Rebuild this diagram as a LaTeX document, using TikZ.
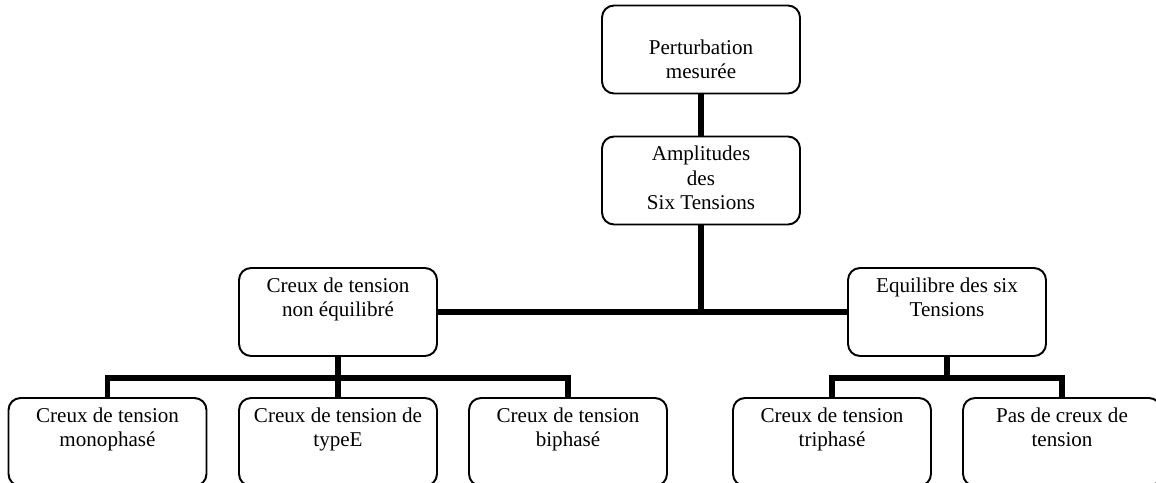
\documentclass[tikz,border=0pt]{standalone}
\usepackage{fontspec}
\setmainfont{Liberation Serif}
\newcommand{\boxtext}[1]{\parbox[c][1.7cm][t]{3.9cm}{\centering\rule{0pt}{13pt}#1}}
\begin{document}
\begin{tikzpicture}[x=0.02cm,y=-0.02cm,
  blok/.style={draw,rounded corners=0.24cm,line width=1.1pt,inner sep=0.03cm,
    font=\fontsize{12}{13.8}\selectfont},
  bar/.style={line width=3.4pt,line join=miter}]
\useasboundingbox (0,0) rectangle (1156,483);
\node[blok] (pert) at (701,49.5) {\boxtext{\\Perturbation\\mesurée}};
\node[blok] (ampl) at (701,180.5) {\boxtext{Amplitudes\\des\\Six Tensions}};
\node[blok] (noneq) at (338,312) {\boxtext{Creux de tension\\non équilibré}};
\node[blok] (equil) at (947,312) {\boxtext{Equilibre des six\\Tensions}};
\node[blok] (mono) at (107.5,442) {\boxtext{Creux de tension\\monophasé}};
\node[blok] (typee) at (338,442) {\boxtext{Creux de tension de\\typeE}};
\node[blok] (bi) at (568,442) {\boxtext{Creux de tension\\biphasé}};
\node[blok] (tri) at (832,442) {\boxtext{Creux de tension\\triphasé}};
\node[blok] (pas) at (1062,442) {\boxtext{Pas de creux de\\tension}};
\coordinate (busL) at (338,378);
\coordinate (busR) at (947,378);
\draw[bar] (pert) -- (ampl);
\draw[bar] (noneq) -- (equil);
\draw[bar] (ampl) -- (ampl |- noneq.east);
\draw[bar] (noneq) -- (typee);
\draw[bar] (mono.north) |- (busL) -| (bi.north);
\draw[bar] (equil) -- (busR);
\draw[bar] (tri.north) |- (busR) -| (pas.north);
\end{tikzpicture}
\end{document}
